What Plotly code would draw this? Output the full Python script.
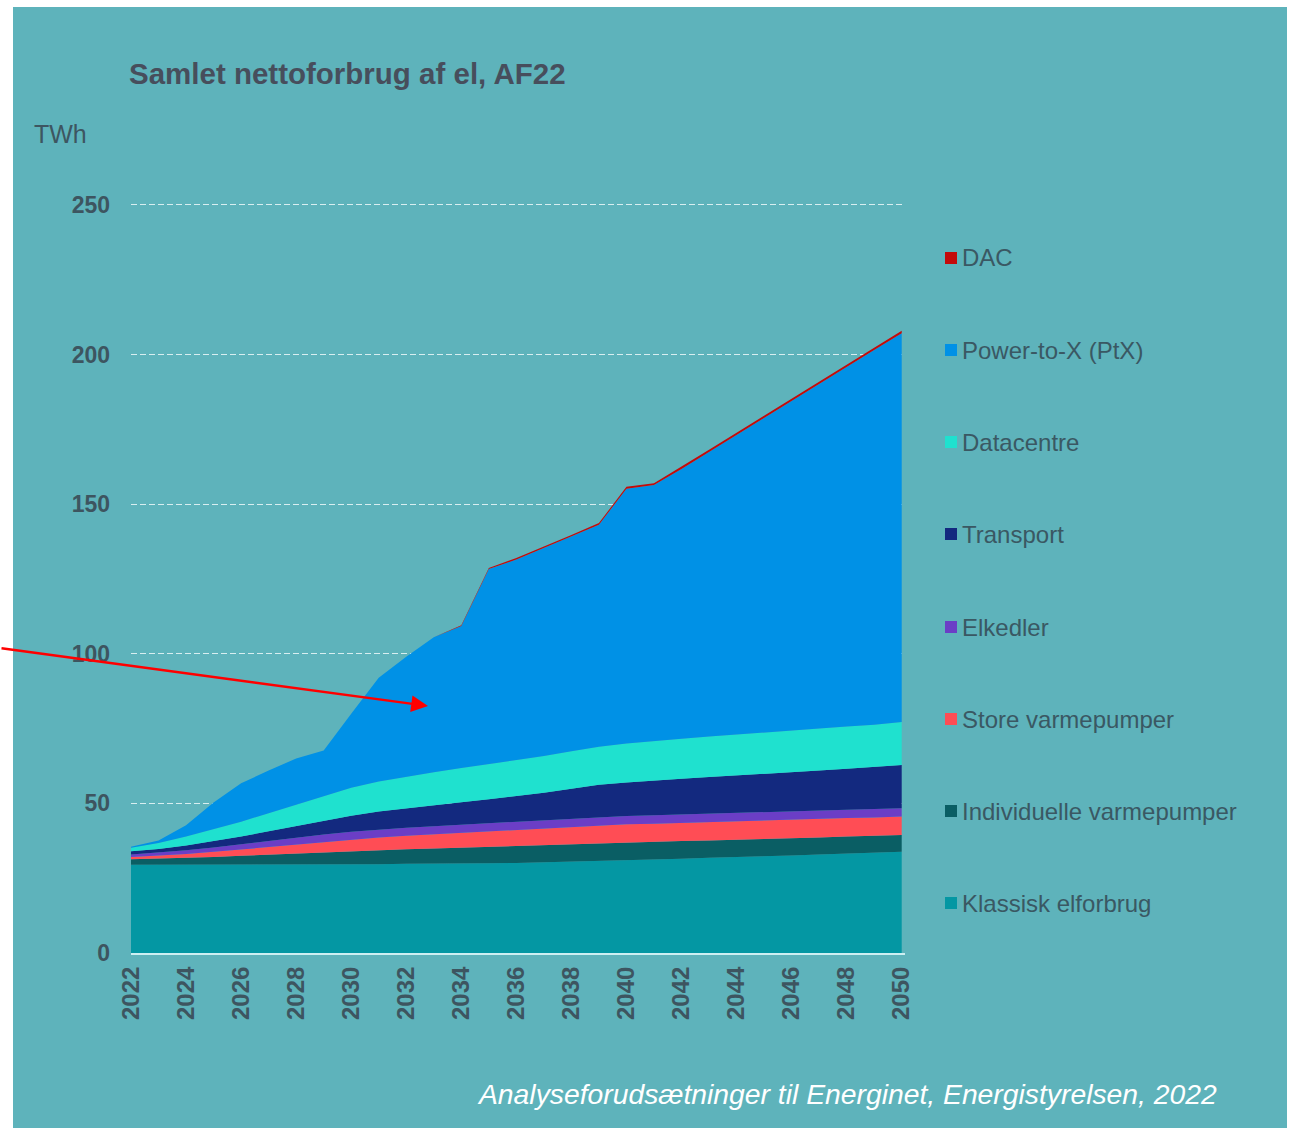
import plotly.graph_objects as go

# ---- data (TWh) ----
years = list(range(2022, 2051))

klassisk = [29.5, 29.5, 29.5, 29.5, 29.5, 29.5, 29.5, 29.5, 29.6, 29.7,
            29.8, 29.8, 29.9, 30.0, 30.1, 30.3, 30.5, 30.7, 31.0, 31.2,
            31.5, 31.8, 32.0, 32.3, 32.6, 32.9, 33.2, 33.5, 33.8]
individuelle = [1.8, 2.0, 2.3, 2.6, 3.0, 3.4, 3.8, 4.1, 4.4, 4.7,
                4.9, 5.1, 5.3, 5.5, 5.6, 5.7, 5.8, 5.9, 5.9, 5.9,
                5.9, 5.8, 5.8, 5.8, 5.7, 5.7, 5.7, 5.6, 5.6]
store_vp = [0.8, 1.0, 1.3, 1.7, 2.1, 2.6, 3.1, 3.5, 3.9, 4.2,
            4.5, 4.8, 5.0, 5.2, 5.4, 5.6, 5.8, 6.0, 6.1, 6.1,
            6.1, 6.2, 6.2, 6.2, 6.2, 6.2, 6.2, 6.2, 6.2]
elkedler = [0.8, 1.0, 1.2, 1.5, 1.8, 2.1, 2.3, 2.5, 2.6, 2.7,
            2.7, 2.7, 2.7, 2.7, 2.8, 2.8, 2.8, 2.8, 2.8, 2.8,
            2.8, 2.8, 2.8, 2.8, 2.8, 2.8, 2.8, 2.8, 2.8]
transport = [1.1, 1.3, 1.6, 2.0, 2.5, 3.1, 3.8, 4.6, 5.4, 6.0,
             6.5, 7.0, 7.5, 8.0, 8.5, 9.2, 10.0, 10.8, 11.2, 11.5,
             11.9, 12.2, 12.5, 12.8, 13.1, 13.4, 13.7, 14.0, 14.4]
datacentre = [1.2, 2.0, 3.0, 4.0, 5.0, 6.0, 7.0, 8.2, 9.3, 10.0,
              10.5, 11.0, 11.4, 11.7, 12.0, 12.2, 12.5, 12.7, 13.0, 13.2,
              13.4, 13.6, 13.7, 13.8, 13.9, 14.0, 14.1, 14.2, 14.4]
ptx = [0.3, 0.8, 3.8, 9.0, 12.8, 14.3, 15.5, 15.3, 24.8, 34.7,
       40.1, 45.1, 47.5, 65.2, 67.1, 69.5, 71.8, 74.2, 85.2, 85.7,
       90.2, 95.1, 100.2, 105.2, 110.2, 115.2, 120.2, 125.2, 129.9]
dac = [0.0, 0.0, 0.0, 0.0, 0.0, 0.0, 0.0, 0.0, 0.0, 0.0,
       0.0, 0.0, 0.2, 0.4, 0.5, 0.5, 0.5, 0.6, 0.6, 0.6,
       0.7, 0.7, 0.7, 0.7, 0.8, 0.8, 0.8, 0.9, 0.9]

series_names = ["Klassisk elforbrug", "Individuelle varmepumper", "Store varmepumper",
                "Elkedler", "Transport", "Datacentre", "Power-to-X (PtX)", "DAC"]
series_values = [klassisk, individuelle, store_vp, elkedler, transport, datacentre, ptx, dac]
series_colors = ["#0497A3", "#0A5E64", "#FF4D55", "#6B3EC6",
                 "#13297F", "#1FE1CF", "#0091E6", "#C40A0A"]

title_text = "Samlet nettoforbrug af el, AF22"
unit_text = "TWh"
source_text = "Analyseforudsætninger til Energinet, Energistyrelsen, 2022"

# ---- layout geometry (pixels) ----
W, H = 1292, 1128
Y_MAX = 251                             # a touch above 250 so its gridline is drawn
PL, PR, PB = 131, 905, 953              # plot area edges
PT = round(PB - (PB - 205) * Y_MAX / 250)
PW, PH = PR - PL, PB - PT


def px(x):
    return (x - PL) / PW


def py(y):
    return (PB - y) / PH


BG = "#5EB3BB"
FONT = "Liberation Sans, Arial, sans-serif"

fig = go.Figure()
for name, vals, col in zip(series_names, series_values, series_colors):
    fig.add_trace(go.Scatter(
        x=years, y=vals, name=name, mode="lines",
        stackgroup="one", fillcolor=col,
        line=dict(width=0, color=col),
        showlegend=False, hoverinfo="x+y+name",
    ))

shapes = [dict(type="rect", xref="paper", yref="paper",
               x0=px(13), x1=px(1287), y0=py(1135), y1=py(7),
               fillcolor=BG, line=dict(width=0), layer="below")]
annotations = [
    dict(text=f"<b>{title_text}</b>", xref="paper", yref="paper",
         x=px(127), y=py(74), xanchor="left", yanchor="middle", showarrow=False,
         font=dict(family=FONT, size=29.5, color="#474E5C")),
    dict(text=unit_text, xref="paper", yref="paper",
         x=px(32), y=py(134), xanchor="left", yanchor="middle", showarrow=False,
         font=dict(family=FONT, size=25, color="#3D5661")),
    dict(text=f"<i>{source_text}</i>", xref="paper", yref="paper",
         x=px(1219), y=py(1094), xanchor="right", yanchor="middle", showarrow=False,
         font=dict(family=FONT, size=28.3, color="#FFFFFF")),
    # pointer arrow into the PtX area
    dict(text="", xref="paper", yref="paper", x=px(428), y=py(706),
         axref="pixel", ayref="pixel", ax=-428, ay=-58,
         showarrow=True, arrowhead=2, arrowsize=1.4, arrowwidth=2.4,
         arrowcolor="#FF0000", standoff=0, startstandoff=0),
]

# legend, top entry = top of stack
legend_y = [258, 350, 442, 534, 627, 719, 811, 903]
for i, (name, col) in enumerate(zip(series_names[::-1], series_colors[::-1])):
    yc = legend_y[i]
    shapes.append(dict(type="rect", xref="paper", yref="paper",
                       x0=px(945), x1=px(957), y0=py(yc + 6), y1=py(yc - 6),
                       fillcolor=col, line=dict(width=0), layer="above"))
    annotations.append(dict(text=name, xref="paper", yref="paper",
                            x=px(960), y=py(yc), xanchor="left", yanchor="middle",
                            showarrow=False,
                            font=dict(family=FONT, size=24, color="#3A5863")))

fig.update_layout(
    width=W, height=H,
    margin=dict(l=PL, r=W - PR, t=PT, b=H - PB, pad=0),
    paper_bgcolor="#FFFFFF", plot_bgcolor="rgba(0,0,0,0)",
    showlegend=False,
    shapes=shapes, annotations=annotations,
    xaxis=dict(range=[2022, 2050.12], tickmode="linear", tick0=2022, dtick=2,
               tickangle=-90, showgrid=False, zeroline=False,
               showline=True, linecolor="#CDEFF2", linewidth=2,
               ticks="", ticklabelstandoff=2,
               tickfont=dict(family=FONT, size=24, color="#3D5560", weight="bold")),
    yaxis=dict(range=[0, Y_MAX], tickmode="linear", tick0=0, dtick=50,
               showgrid=True, gridcolor="#D8EEF0", gridwidth=1, griddash="6px,3px",
               zeroline=False, showline=False, ticks="", ticklabelstandoff=20,
               tickfont=dict(family=FONT, size=23, color="#3D5560", weight="bold")),
)

fig.write_html("out.html")
